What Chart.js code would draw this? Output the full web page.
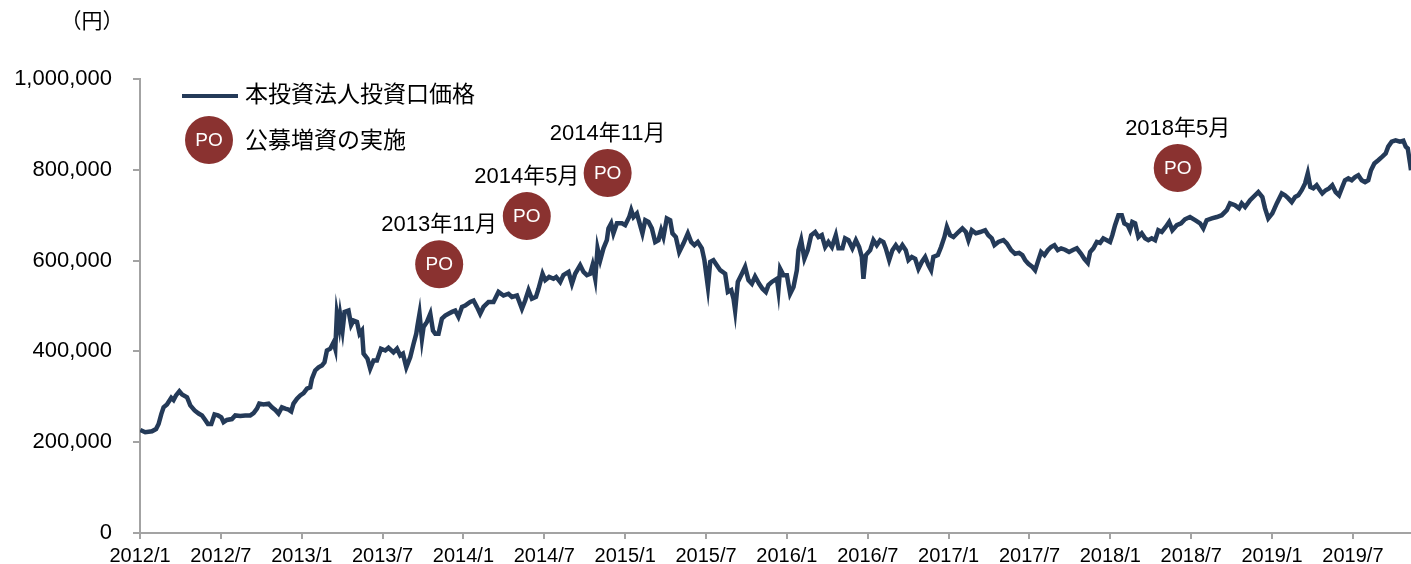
<!DOCTYPE html>
<html>
<head>
<meta charset="utf-8">
<script src="https://cdn.jsdelivr.net/npm/chart.js@4.4.0/dist/chart.umd.min.js"></script>
<style>
  html, body { margin: 0; padding: 0; background: #fff; }
  canvas { display: block; }
</style>
</head>
<body>
<canvas id="priceChart" width="1411" height="564"></canvas>
<script>
// months counted from 2012/1 (0 = start of January 2012)
let months = [
  0.02,0.39,0.89,1.19,1.38,1.58,1.75,2.00,2.32,2.49,
  2.67,2.92,3.12,3.49,3.73,4.05,4.35,4.60,4.84,5.04,
  5.29,5.53,5.79,6.03,6.20,6.45,6.82,7.07,7.44,7.81,
  8.18,8.43,8.68,8.85,9.17,9.54,9.79,10.04,10.28,10.53,
  10.78,11.02,11.22,11.39,11.65,11.89,12.14,12.39,12.63,12.76,
  13.00,13.25,13.50,13.69,13.87,14.12,14.36,14.49,14.61,14.78,
  14.86,15.03,15.18,15.47,15.67,15.85,16.10,16.29,16.47,16.59,
  16.88,17.08,17.33,17.58,17.88,18.20,18.44,18.81,19.07,19.31,
  19.51,19.76,20.05,20.30,20.50,20.59,20.74,20.92,21.04,21.29,
  21.54,21.74,21.91,22.15,22.40,22.65,22.89,23.15,23.39,23.63,
  23.89,24.13,24.50,24.75,25.00,25.24,25.49,25.86,26.23,26.60,
  26.97,27.34,27.60,27.97,28.34,28.58,28.83,29.08,29.38,29.57,
  29.87,30.07,30.36,30.68,30.88,31.18,31.42,31.80,32.05,32.29,
  32.66,32.91,33.16,33.40,33.58,33.78,33.95,34.15,34.39,34.64,
  34.76,34.96,35.13,35.39,35.76,36.00,36.30,36.45,36.62,36.87,
  37.11,37.28,37.49,37.73,37.98,38.23,38.47,38.67,38.84,39.09,
  39.34,39.51,39.76,40.01,40.33,40.65,40.90,41.14,41.39,41.69,
  41.88,42.14,42.31,42.55,42.80,43.05,43.42,43.62,43.87,44.04,
  44.16,44.36,44.66,44.90,45.15,45.40,45.64,45.94,46.19,46.44,
  46.63,46.88,47.26,47.37,47.50,47.74,48.00,48.24,48.49,48.74,
  48.86,49.06,49.30,49.55,49.80,50.10,50.34,50.59,50.84,51.08,
  51.34,51.63,51.83,52.12,52.32,52.57,52.86,53.12,53.36,53.56,
  53.68,53.86,54.18,54.42,54.67,54.92,55.16,55.34,55.59,55.83,
  56.08,56.33,56.57,56.82,57.02,57.27,57.52,57.76,58.01,58.26,
  58.50,58.70,58.87,59.20,59.44,59.69,59.87,60.11,60.36,60.73,
  61.02,61.28,61.47,61.72,62.02,62.34,62.71,62.95,63.20,63.40,
  63.69,64.07,64.32,64.64,64.93,65.23,65.47,65.68,65.92,66.22,
  66.42,66.66,66.86,67.11,67.36,67.60,67.85,68.10,68.35,68.64,
  68.94,69.26,69.51,69.83,70.07,70.33,70.50,70.74,71.00,71.24,
  71.48,71.74,71.98,72.15,72.35,72.60,72.85,73.04,73.29,73.46,
  73.63,73.84,74.08,74.33,74.58,74.82,75.07,75.32,75.56,75.82,
  76.11,76.36,76.60,76.93,77.25,77.54,77.91,78.29,78.66,78.90,
  79.15,79.53,79.90,80.27,80.64,80.88,81.25,81.55,81.75,82.00,
  82.37,82.74,82.98,83.28,83.48,83.72,84.02,84.35,84.72,84.96,
  85.21,85.46,85.71,85.95,86.20,86.45,86.65,86.84,87.06,87.31,
  87.56,87.73,87.98,88.23,88.47,88.72,88.97,89.17,89.41,89.66,
  89.91,90.16,90.40,90.65,90.90,91.14,91.34,91.59,91.88,92.18,
  92.43,92.62,92.88,93.17,93.49,93.74,93.92,94.07,94.24,94.31
];

// 投資口価格（円）
let prices = [
  227000,222000,224000,229000,240000,262000,277000,283000,298000,293000,
  303000,312000,305000,299000,281000,270000,263000,259000,249000,240000,
  240000,261000,259000,255000,244000,249000,251000,259000,258000,259000,
  259000,264000,274000,285000,283000,285000,277000,271000,263000,277000,
  274000,272000,268000,285000,296000,303000,308000,318000,321000,340000,
  358000,365000,369000,376000,402000,406000,420000,406000,483000,454000,
  479000,446000,487000,490000,458000,468000,465000,439000,446000,395000,
  384000,362000,380000,380000,406000,402000,408000,398000,406000,391000,
  395000,365000,387000,417000,439000,457000,483000,428000,454000,465000,
  483000,446000,439000,439000,472000,479000,483000,487000,490000,476000,
  498000,501000,509000,512000,498000,483000,498000,509000,509000,531000,
  523000,527000,520000,523000,494000,512000,535000,516000,520000,538000,
  571000,557000,564000,560000,564000,553000,568000,575000,549000,571000,
  590000,575000,568000,571000,590000,560000,627000,601000,627000,645000,
  671000,682000,660000,682000,682000,678000,696000,711000,696000,704000,
  678000,660000,689000,685000,671000,641000,645000,667000,652000,693000,
  689000,660000,652000,619000,638000,660000,641000,634000,641000,627000,
  601000,542000,597000,601000,590000,579000,571000,531000,535000,516000,
  490000,553000,571000,586000,557000,549000,565000,549000,538000,531000,
  546000,553000,560000,535000,582000,568000,568000,527000,542000,579000,
  623000,645000,604000,623000,656000,663000,652000,656000,630000,641000,
  630000,656000,627000,627000,649000,645000,627000,645000,630000,608000,
  560000,612000,623000,645000,634000,645000,641000,627000,601000,623000,
  634000,623000,634000,623000,601000,608000,604000,582000,597000,608000,
  590000,579000,608000,612000,630000,652000,674000,656000,652000,663000,
  671000,663000,645000,667000,660000,663000,667000,656000,649000,634000,
  641000,645000,638000,623000,615000,617000,612000,601000,593000,586000,
  579000,601000,619000,612000,623000,630000,634000,623000,627000,624000,
  619000,624000,627000,615000,604000,595000,619000,627000,641000,639000,
  649000,645000,641000,656000,678000,700000,700000,682000,678000,667000,
  685000,682000,652000,660000,649000,645000,649000,645000,667000,663000,
  674000,685000,667000,678000,682000,691000,696000,689000,682000,671000,
  689000,693000,696000,700000,711000,726000,722000,715000,726000,718000,
  733000,744000,751000,740000,715000,693000,704000,726000,748000,744000,
  737000,729000,740000,744000,755000,770000,792000,762000,759000,766000,
  755000,748000,755000,759000,766000,751000,744000,759000,777000,781000,
  777000,784000,788000,777000,773000,777000,799000,814000,821000,829000,
  836000,851000,862000,865000,862000,864000,851000,847000,814000,799000
];

let tickMonths = [0, 6, 12, 18, 24, 30, 36, 42, 48, 54, 60, 66, 72, 78, 84, 90];
let tickLabels = [
  "2012/1", "2012/7", "2013/1", "2013/7", "2014/1", "2014/7", "2015/1", "2015/7",
  "2016/1", "2016/7", "2017/1", "2017/7", "2018/1", "2018/7", "2019/1", "2019/7"
];

// 公募増資（PO）のマーカー
let poMonths = [22.2, 28.7, 34.7, 77.0];
let poPrices = [592000, 698000, 793000, 804000];
let poLabels = ["2013年11月", "2014年5月", "2014年11月", "2018年5月"];

const lineColor = '#243a58';
const poColor   = '#8a3230';
const axisColor = '#a3a3a3';
const fontFamily = '"Liberation Sans", Arial, "Noto Sans CJK JP", sans-serif';

Chart.defaults.font.family = fontFamily;
Chart.defaults.color = '#000';

// 凡例・単位・POラベルを描く
const annotations = {
  id: 'annotations',
  afterDatasetsDraw(chart) {
    const ctx = chart.ctx;
    ctx.save();

    ctx.fillStyle = '#000';
    ctx.textBaseline = 'middle';
    ctx.font = '21px ' + fontFamily;
    ctx.textAlign = 'center';
    ctx.fillText('（円）', 92, 22);

    // 凡例
    ctx.strokeStyle = lineColor;
    ctx.lineWidth = 4;
    ctx.beginPath();
    ctx.moveTo(182, 96);
    ctx.lineTo(238, 96);
    ctx.stroke();

    ctx.fillStyle = poColor;
    ctx.beginPath();
    ctx.arc(209, 140, 24, 0, Math.PI * 2);
    ctx.fill();
    ctx.fillStyle = '#fff';
    ctx.font = '19px ' + fontFamily;
    ctx.fillText('PO', 209, 141);

    ctx.fillStyle = '#000';
    ctx.textAlign = 'left';
    ctx.font = '23px ' + fontFamily;
    ctx.fillText('本投資法人投資口価格', 245, 96);
    ctx.fillText('公募増資の実施', 245, 142);

    // POマーカーの文字
    const points = chart.getDatasetMeta(1).data;
    ctx.textAlign = 'center';
    points.forEach((pt, i) => {
      ctx.fillStyle = '#fff';
      ctx.font = '19px ' + fontFamily;
      ctx.fillText('PO', pt.x, pt.y + 1);
      ctx.fillStyle = '#000';
      ctx.font = '22px ' + fontFamily;
      ctx.fillText(poLabels[i], pt.x, pt.y - 39);
    });

    ctx.restore();
  }
};

const ctx = document.getElementById('priceChart').getContext('2d');
const priceChart = new Chart(ctx, {
  type: 'line',
  data: {
    datasets: [
      {
        label: '本投資法人投資口価格',
        data: months.map((m, i) => ({ x: m, y: prices[i] })),
        borderColor: lineColor,
        borderWidth: 4.5,
        pointRadius: 0,
        tension: 0,
        fill: false
      },
      {
        type: 'scatter',
        label: '公募増資の実施',
        data: poMonths.map((m, i) => ({ x: m, y: poPrices[i] })),
        backgroundColor: poColor,
        borderWidth: 0,
        pointRadius: 24,
        pointHoverRadius: 24
      }
    ]
  },
  options: {
    responsive: false,
    animation: false,
    events: [],
    layout: {
      autoPadding: false,
      padding: { top: 79, right: 0, bottom: 0, left: 0 }
    },
    plugins: {
      legend: { display: false },
      tooltip: { enabled: false }
    },
    scales: {
      x: {
        type: 'linear',
        min: 0,
        max: 94.31,
        afterBuildTicks: (scale) => {
          scale.ticks = tickMonths.map(v => ({ value: v }));
        },
        afterFit: (scale) => {
          scale.height = 31;
          scale.paddingLeft = 0;
          scale.paddingRight = 0;
        },
        ticks: {
          autoSkip: false,
          maxRotation: 0,
          padding: 5,
          font: { size: 20 },
          callback: (value) => tickLabels[tickMonths.indexOf(value)]
        },
        grid: { drawOnChartArea: false, tickLength: 6, color: axisColor, lineWidth: 2 },
        border: { color: axisColor, width: 2 }
      },
      y: {
        min: 0,
        max: 1000000,
        afterFit: (scale) => {
          scale.width = 140;
          scale.paddingTop = 0;
          scale.paddingBottom = 0;
        },
        ticks: {
          stepSize: 200000,
          padding: 21,
          font: { size: 22 },
          callback: (value) => value.toLocaleString('en-US')
        },
        grid: { drawOnChartArea: false, tickLength: 7, color: axisColor, lineWidth: 2 },
        border: { color: axisColor, width: 2 }
      }
    }
  },
  plugins: [annotations]
});
</script>
</body>
</html>
